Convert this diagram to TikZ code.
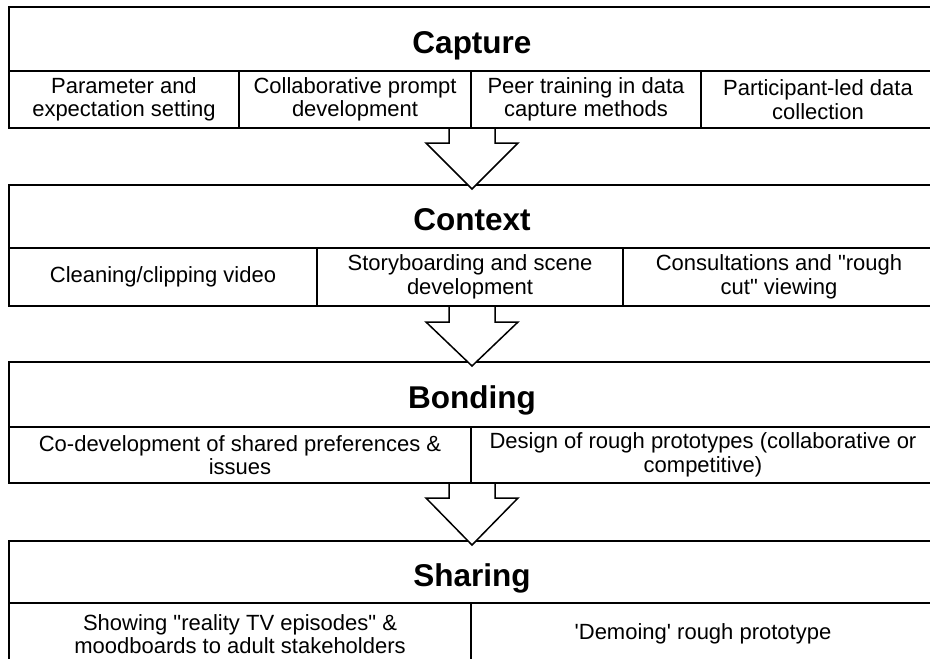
\documentclass[tikz,border=0pt]{standalone}
\usepackage{fontspec}
\setmainfont{Liberation Sans}[Ligatures=TeXOff]
\usetikzlibrary{calc}

\begin{document}
\begin{tikzpicture}[
		x=1pt, y=-1pt,
		every node/.style={draw, line width=1.5pt, inner sep=0pt, outer sep=0pt, align=center},
		head/.style={anchor=north west, minimum width=926pt, minimum height=64pt,
			text height=28pt, text depth=0pt, font=\fontsize{31.5}{34}\selectfont\bfseries},
		cell/.style={anchor=north west, minimum height=57pt, font=\fontsize{22}{23.5}\selectfont},
		blockarrow/.style={draw, fill=white, line width=1.5pt, line join=miter}]

		\useasboundingbox (0,0) rectangle (930,659);
		\clip (0,0) rectangle (930,659);

		% stage 1
		\node[head] (cap) at (9,7) {Capture};
		\node[cell, minimum width=230pt] (cap1) at (cap.south west) {Parameter and\\expectation setting};
		\node[cell, minimum width=232pt] (cap2) at (cap1.north east) {Collaborative prompt\\development};
		\node[cell, minimum width=230pt] (cap3) at (cap2.north east) {Peer training in data\\capture methods};
		\node[cell, minimum width=234pt] (cap4) at (cap3.north east) {Participant-led data\\collection};

		% stage 2
		\node[head, minimum height=63pt] (con) at (9,185) {Context};
		\node[cell, minimum width=308pt, minimum height=58pt] (con1) at (con.south west) {Cleaning/clipping video};
		\node[cell, minimum width=306pt, minimum height=58pt] (con2) at (con1.north east) {Storyboarding and scene\\development};
		\node[cell, minimum width=312pt, minimum height=58pt] (con3) at (con2.north east) {Consultations and "rough\\cut" viewing};

		% stage 3
		\node[head, minimum height=65pt] (bon) at (9,362) {Bonding};
		\node[cell, minimum width=462pt, minimum height=56pt] (bon1) at (bon.south west) {Co-development of shared preferences \&\\issues};
		\node[cell, minimum width=464pt, minimum height=56pt] (bon2) at (bon1.north east) {Design of rough prototypes (collaborative or\\competitive)};

		% stage 4
		\node[head, minimum height=62pt] (sha) at (9,541) {Sharing};
		\node[cell, minimum width=462pt, minimum height=62pt] (sha1) at (sha.south west) {Showing "reality TV episodes" \&\\moodboards to adult stakeholders};
		\node[cell, minimum width=464pt, minimum height=62pt] (sha2) at (sha1.north east) {'Demoing' rough prototype};

		% arrows between the stages
		\draw[blockarrow] ($(cap |- cap1.south)+(-23,1)$) |- ++(-23,14)
			-- ($(con.north)+(0,4)$) -- ($(cap |- cap1.south)+(46,15)$) -| ($(cap |- cap1.south)+(23,1)$);
		\draw[blockarrow] ($(con |- con1.south)+(-23,1)$) |- ++(-23,15)
			-- ($(bon.north)+(0,4)$) -- ($(con |- con1.south)+(46,16)$) -| ($(con |- con1.south)+(23,1)$);
		\draw[blockarrow] ($(bon |- bon1.south)+(-23,1)$) |- ++(-23,14)
			-- ($(sha.north)+(0,4)$) -- ($(bon |- bon1.south)+(46,15)$) -| ($(bon |- bon1.south)+(23,1)$);

\end{tikzpicture}
\end{document}
